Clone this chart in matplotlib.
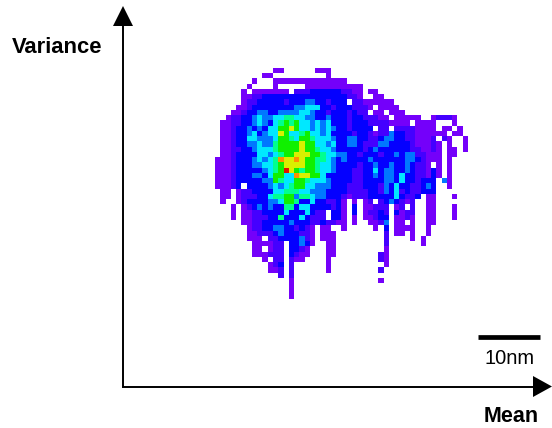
import numpy as np
import matplotlib
matplotlib.use("Agg")
import matplotlib.pyplot as plt
from matplotlib.colors import ListedColormap

plt.rcParams['font.family'] = ['Liberation Sans', 'DejaVu Sans']

# density levels, one string per row, '.' = empty, a = top level
rows_left = [
    "...........11......111..",
    ".........11..........1..",
    ".......1...1111111111111",
    "......1....1.....1111111",
    ".....1.1111111.222333333",
    ".....1122333333333333333",
    ".....1223333323334433233",
    "....11233333333445553323",
    "...112334433444455433233",
    "..1223345445566554433433",
    ".11223345435676755454533",
    ".11233434355778755454543",
    ".11233453455875567554533",
    ".11233554445776577655543",
    ".11233445446777787755453",
    ".11223345556777787765543",
    ".11233335545677888776554",
    "111233345456988987766543",
    "111233344556788887765543",
    "1112333334567a8767765543",
    "111233344357755988775333",
    "111233333447655776555433",
    "11123.333345456775544433",
    ".11.12233335566655444333",
    ".11.12223356677466544333",
    ".1..12333344577633533223",
    "...1.1234343366355333323",
    "...1.1122333353335322.33",
    "...1.1122233633353222.33",
    ".....1122333334333223221",
    "......1223344332321.11..",
    "......1122234333221.111.",
    "......111.223333421.111.",
    ".......111122.33431..11.",
    ".......11.122.3321...11.",
    ".......111222.3211...11.",
    ".........1.22.211....1..",
    "..........123.2......1..",
    "..........112.2......1..",
    "............2.2.........",
    "..............1.........",
    "..............1.........",
    "..............1.........",
    "..............1.........",
]
rows_right = [
    "........................",
    "........................",
    "1.......................",
    "1111....................",
    "2211.11.................",
    "3221..11................",
    "3.22111111..............",
    "332221.1111.............",
    "32322.11.111............",
    "323322211.11111..12221..",
    "3233322221111.1111...1..",
    "323333.22.22221111.11.1.",
    "33233212243322111111.11.",
    "344332234433221112.21..1",
    "3443222443333211121.1..1",
    "3333234333333221121.11.1",
    "4332333233434422111.11..",
    "4333343333334432111.1...",
    "33323343343343221.1.1...",
    "3322335344334322131.1...",
    "3322334344353322131.1...",
    "332233334435332333.41...",
    "322233324353322343..1...",
    "322223324352322333......",
    "212223333353223.11...1..",
    "1.1.12.2343212..11......",
    "1.3.11222.12.2..11...1..",
    "1.3.12232.3122..11...1..",
    "1.1.11233.1121..11...1..",
    "1.1..1124.11.1..11......",
    "1.....1.3.1111..1.......",
    "........2.11.1..1.......",
    "........2....1.1........",
    "........2......1........",
    "........1...............",
    ".......21...............",
    ".......21...............",
    "........1...............",
    ".......2................",
    "........................",
    ".......1................",
    "........................",
    "........................",
    "........................",
]
level_colors = ["#7400fa", "#4400ff", "#0400ff", "#0078ff", "#00e8ff",
                "#00ff90", "#10f000", "#d8f000", "#ff9000", "#e01000"]

x_label = "Mean"
y_label = "Variance"
scale_label = "10nm"

codes = "123456789a"
grid = np.full((len(rows_left), 48), np.nan)
for r, (a, b) in enumerate(zip(rows_left, rows_right)):
    row = a[:24].ljust(24, ".") + b[:24].ljust(24, ".")
    for c, ch in enumerate(row):
        if ch in codes:
            grid[r, c] = codes.index(ch)

fig = plt.figure(figsize=(5.52, 4.28), dpi=100)
ax = fig.add_axes([0, 0, 1, 1])

cmap = ListedColormap(level_colors)
ax.imshow(np.ma.masked_invalid(grid), cmap=cmap, vmin=-0.5, vmax=9.5, interpolation="nearest",
          extent=(215.0, 468.0, 298.6, 68.0), aspect="auto")
ax.set_xlim(0, 552)
ax.set_ylim(428, 0)
ax.axis("off")

# axes arrows
ax.plot([123, 123], [387, 24], color="black", lw=1.4, solid_capstyle="butt")
ax.plot([122, 535], [386.5, 386.5], color="black", lw=1.4, solid_capstyle="butt")
ax.fill([113, 133, 123], [26, 26, 6], color="black", lw=0)
ax.fill([533, 533, 552], [376, 397, 386.5], color="black", lw=0)

# scale bar
ax.plot([478, 540], [337, 337], color="black", lw=3.4, solid_capstyle="butt")

ax.text(12, 47, y_label, fontsize=15.8, fontweight="bold", va="center", ha="left")
ax.text(484, 416, x_label, fontsize=15.5, fontweight="bold", va="center", ha="left")
ax.text(484, 359, scale_label, fontsize=14.5, va="center", ha="left")

fig.savefig("out.png", dpi=100)
